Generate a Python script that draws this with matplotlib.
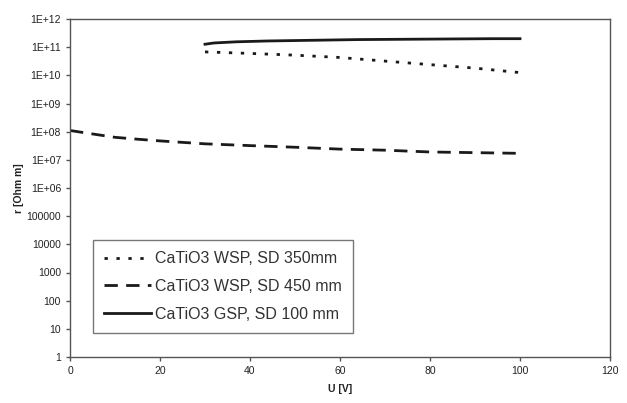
import matplotlib
matplotlib.use("Agg")
import matplotlib.pyplot as plt
from matplotlib.ticker import FixedLocator, NullLocator

plt.rcParams['font.family'] = ['Liberation Sans', 'DejaVu Sans']

# Data
u_350 = [30, 40, 50, 60, 70, 80, 90, 100]
r_350 = [6.8e10, 6.0e10, 5.2e10, 4.3e10, 3.2e10, 2.4e10, 1.8e10, 1.25e10]

u_450 = [0, 5, 10, 15, 20, 30, 40, 50, 60, 70, 80, 90, 100]
r_450 = [1.1e8, 8.3e7, 6.3e7, 5.4e7, 4.7e7, 3.7e7, 3.2e7, 2.8e7, 2.4e7, 2.2e7, 1.9e7, 1.8e7, 1.7e7]

u_100 = [30, 32, 37, 44, 64, 94, 100]
r_100 = [1.27e11, 1.41e11, 1.55e11, 1.66e11, 1.86e11, 2.0e11, 2.0e11]

labels = ["CaTiO3 WSP, SD 350mm", "CaTiO3 WSP, SD 450 mm", "CaTiO3 GSP, SD 100 mm"]
y_ticks = [10.0**k for k in range(0, 13)]
y_tick_labels = ["1", "10", "100", "1000", "10000", "100000", "1E+06", "1E+07",
                 "1E+08", "1E+09", "1E+10", "1E+11", "1E+12"]
x_ticks = [0, 20, 40, 60, 80, 100, 120]

fig = plt.figure(figsize=(6.27, 4.03), dpi=100)
ax = fig.add_axes([70/627, 1 - 357/403, (610-70)/627, (357-19)/403])

c = '#1a1a1a'
ax.plot(u_350, r_350, color=c, lw=2.0, linestyle=(0, (1.2, 3.1)), label=labels[0])
ax.plot(u_450, r_450, color=c, lw=2.0, linestyle=(0, (4.8, 3.0)), label=labels[1])
ax.plot(u_100, r_100, color=c, lw=2.0, linestyle='-', label=labels[2])

ax.set_yscale('log')
ax.set_ylim(1, 1e12)
ax.set_xlim(0, 120)
ax.yaxis.set_major_locator(FixedLocator(y_ticks))
ax.set_yticks(y_ticks)
ax.set_yticklabels(y_tick_labels)
ax.yaxis.set_minor_locator(NullLocator())
ax.set_xticks(x_ticks)
ax.set_xticklabels([str(t) for t in x_ticks])

for s in ax.spines.values():
    s.set_color('#555555')
    s.set_linewidth(1.0)
ax.tick_params(axis='both', labelsize=7.5, colors='#555555', labelcolor='#222222',
               length=3, width=1.0, direction='out')

ax.set_xlabel("U [V]", fontsize=7.5, fontweight='bold', color='#222222', labelpad=6)
ax.set_ylabel("r [Ohm m]", fontsize=7.5, fontweight='bold', color='#222222', labelpad=2)

leg = ax.legend(loc='upper left', bbox_to_anchor=((93-70)/540, (357-240)/338),
                fontsize=11.5, frameon=True, fancybox=False, handlelength=2.9,
                handletextpad=0.3, borderpad=0.7, labelspacing=0.8, borderaxespad=0)
leg.get_frame().set_edgecolor('#555555')
leg.get_frame().set_linewidth(1.0)
for t in leg.get_texts():
    t.set_color('#333333')

fig.savefig("out.png", dpi=100)
